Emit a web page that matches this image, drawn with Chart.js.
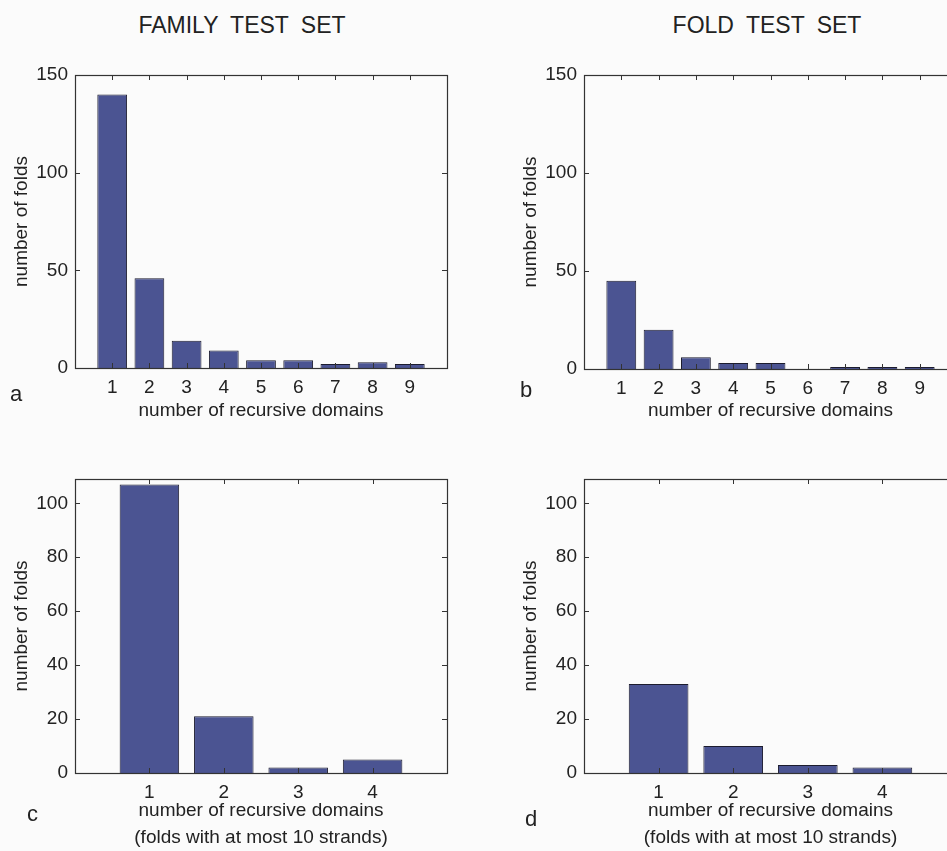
<!DOCTYPE html>
<html>
<head>
<meta charset="utf-8">
<script src="https://cdn.jsdelivr.net/npm/chart.js@4.4.1/dist/chart.umd.min.js"></script>
<style>
  html, body { margin: 0; padding: 0; background: #fbfbfb; overflow: hidden; width: 947px; height: 851px; }
  body { position: relative; font-family: 'Liberation Sans', Arial, sans-serif; color: #222; }
  canvas { position: absolute; }
  .title { position: absolute; width: 400px; text-align: center; font-size: 23px; line-height: 23px; word-spacing: 6px; }
  .letter { position: absolute; font-size: 22px; line-height: 22px; }
</style>
</head>
<body>
<div class="title" style="left:42px; top:14px">FAMILY TEST SET</div>
<div class="title" style="left:567px; top:14px">FOLD TEST SET</div>

<canvas id="chartA" width="460" height="380" style="left:0; top:50px"></canvas>
<canvas id="chartB" width="461" height="380" style="left:509px; top:50px"></canvas>
<canvas id="chartC" width="460" height="397" style="left:0; top:454px"></canvas>
<canvas id="chartD" width="461" height="397" style="left:509px; top:454px"></canvas>

<div class="letter" style="left:10px; top:383px">a</div>
<div class="letter" style="left:520px; top:379px">b</div>
<div class="letter" style="left:27px; top:803px">c</div>
<div class="letter" style="left:525px; top:808px">d</div>

<script>
// number of recursive domains
const domainsAll = [1, 2, 3, 4, 5, 6, 7, 8, 9];
const domainsSmall = [1, 2, 3, 4];

// number of folds
const familyAll = [140, 46, 14, 9, 4, 4, 2, 3, 2];
const foldAll = [45, 20, 6, 3, 3, 0, 1, 1, 1];
const familySmall = [107, 21, 2, 5];
const foldSmall = [33, 10, 3, 2];

const yTicksTop = [0, 50, 100, 150];
const yTicksBottom = [0, 20, 40, 60, 80, 100];

const xLabel = 'number of recursive domains';
const xLabelSmall = ['number of recursive domains', '(folds with at most 10 strands)'];

Chart.defaults.font.family = "'Liberation Sans', Arial, sans-serif";
Chart.defaults.font.size = 19;
Chart.defaults.color = '#222';

// box round the plot area with inward tick marks, like the original axes
const frame = {
  id: 'frame',
  afterDatasetsDraw(chart) {
    const { ctx, chartArea: { left, right, top, bottom }, scales: { x, y } } = chart;
    ctx.save();
    ctx.strokeStyle = '#333';
    ctx.lineWidth = 1;
    ctx.beginPath();
    x.ticks.forEach(t => {
      if (t.value <= x.min || t.value >= x.max) return;
      const px = Math.round(x.getPixelForValue(t.value)) + 0.5;
      ctx.moveTo(px, bottom); ctx.lineTo(px, bottom - 5);
      ctx.moveTo(px, top); ctx.lineTo(px, top + 5);
    });
    y.ticks.forEach(t => {
      if (t.value <= y.min || t.value >= y.max) return;
      const py = Math.round(y.getPixelForValue(t.value)) + 0.5;
      ctx.moveTo(left, py); ctx.lineTo(left + 5, py);
      ctx.moveTo(right, py); ctx.lineTo(right - 5, py);
    });
    ctx.stroke();
    ctx.lineWidth = 1.2;
    ctx.strokeRect(Math.round(left) + 0.5, Math.round(top) + 0.5, Math.round(right - left), Math.round(bottom - top));
    ctx.restore();
  }
};

function makeChart(id, cats, values, yMax, yTicks, title, xHeight) {
  new Chart(document.getElementById(id), {
    type: 'bar',
    data: {
      datasets: [{
        data: cats.map((c, i) => ({ x: c, y: values[i] })),
        backgroundColor: '#4b5492',
        borderColor: '#1c1c2e',
        borderWidth: 1,
        categoryPercentage: 1,
        barPercentage: 0.8
      }]
    },
    options: {
      responsive: false,
      animation: false,
      layout: { padding: { top: 25, right: 13, bottom: 0, left: 0 } },
      plugins: { legend: { display: false }, tooltip: { enabled: false } },
      scales: {
        x: {
          type: 'linear',
          min: 0,
          max: cats.length + 1,
          offset: false,
          grid: { display: false, drawTicks: false, offset: false },
          border: { display: false },
          ticks: {
            stepSize: 1,
            padding: 8,
            autoSkip: false,
            maxRotation: 0,
            callback: v => cats.includes(v) ? String(v) : ''
          },
          title: {
            display: true,
            text: title,
            font: { lineHeight: Array.isArray(title) ? 1.4 : 1.2 },
            padding: { top: 0, bottom: Array.isArray(title) ? 0 : 8 }
          },
          afterFit: s => { s.height = xHeight; }
        },
        y: {
          min: 0,
          max: yMax,
          grid: { display: false, drawTicks: false },
          border: { display: false },
          ticks: {
            padding: 7,
            includeBounds: false,
            stepSize: yTicks[1] - yTicks[0],
            callback: v => yTicks.includes(v) ? String(v) : ''
          },
          title: { display: true, text: 'number of folds', padding: { top: 10, bottom: 0 } },
          afterFit: s => { s.width = 75; }
        }
      }
    },
    plugins: [frame]
  });
}

makeChart('chartA', domainsAll, familyAll, 150, yTicksTop, xLabel, 62);
makeChart('chartB', domainsAll, foldAll, 150, yTicksTop, xLabel, 61);
makeChart('chartC', domainsSmall, familySmall, 109, yTicksBottom, xLabelSmall, 78);
makeChart('chartD', domainsSmall, foldSmall, 109, yTicksBottom, xLabelSmall, 78);
</script>
</body>
</html>
